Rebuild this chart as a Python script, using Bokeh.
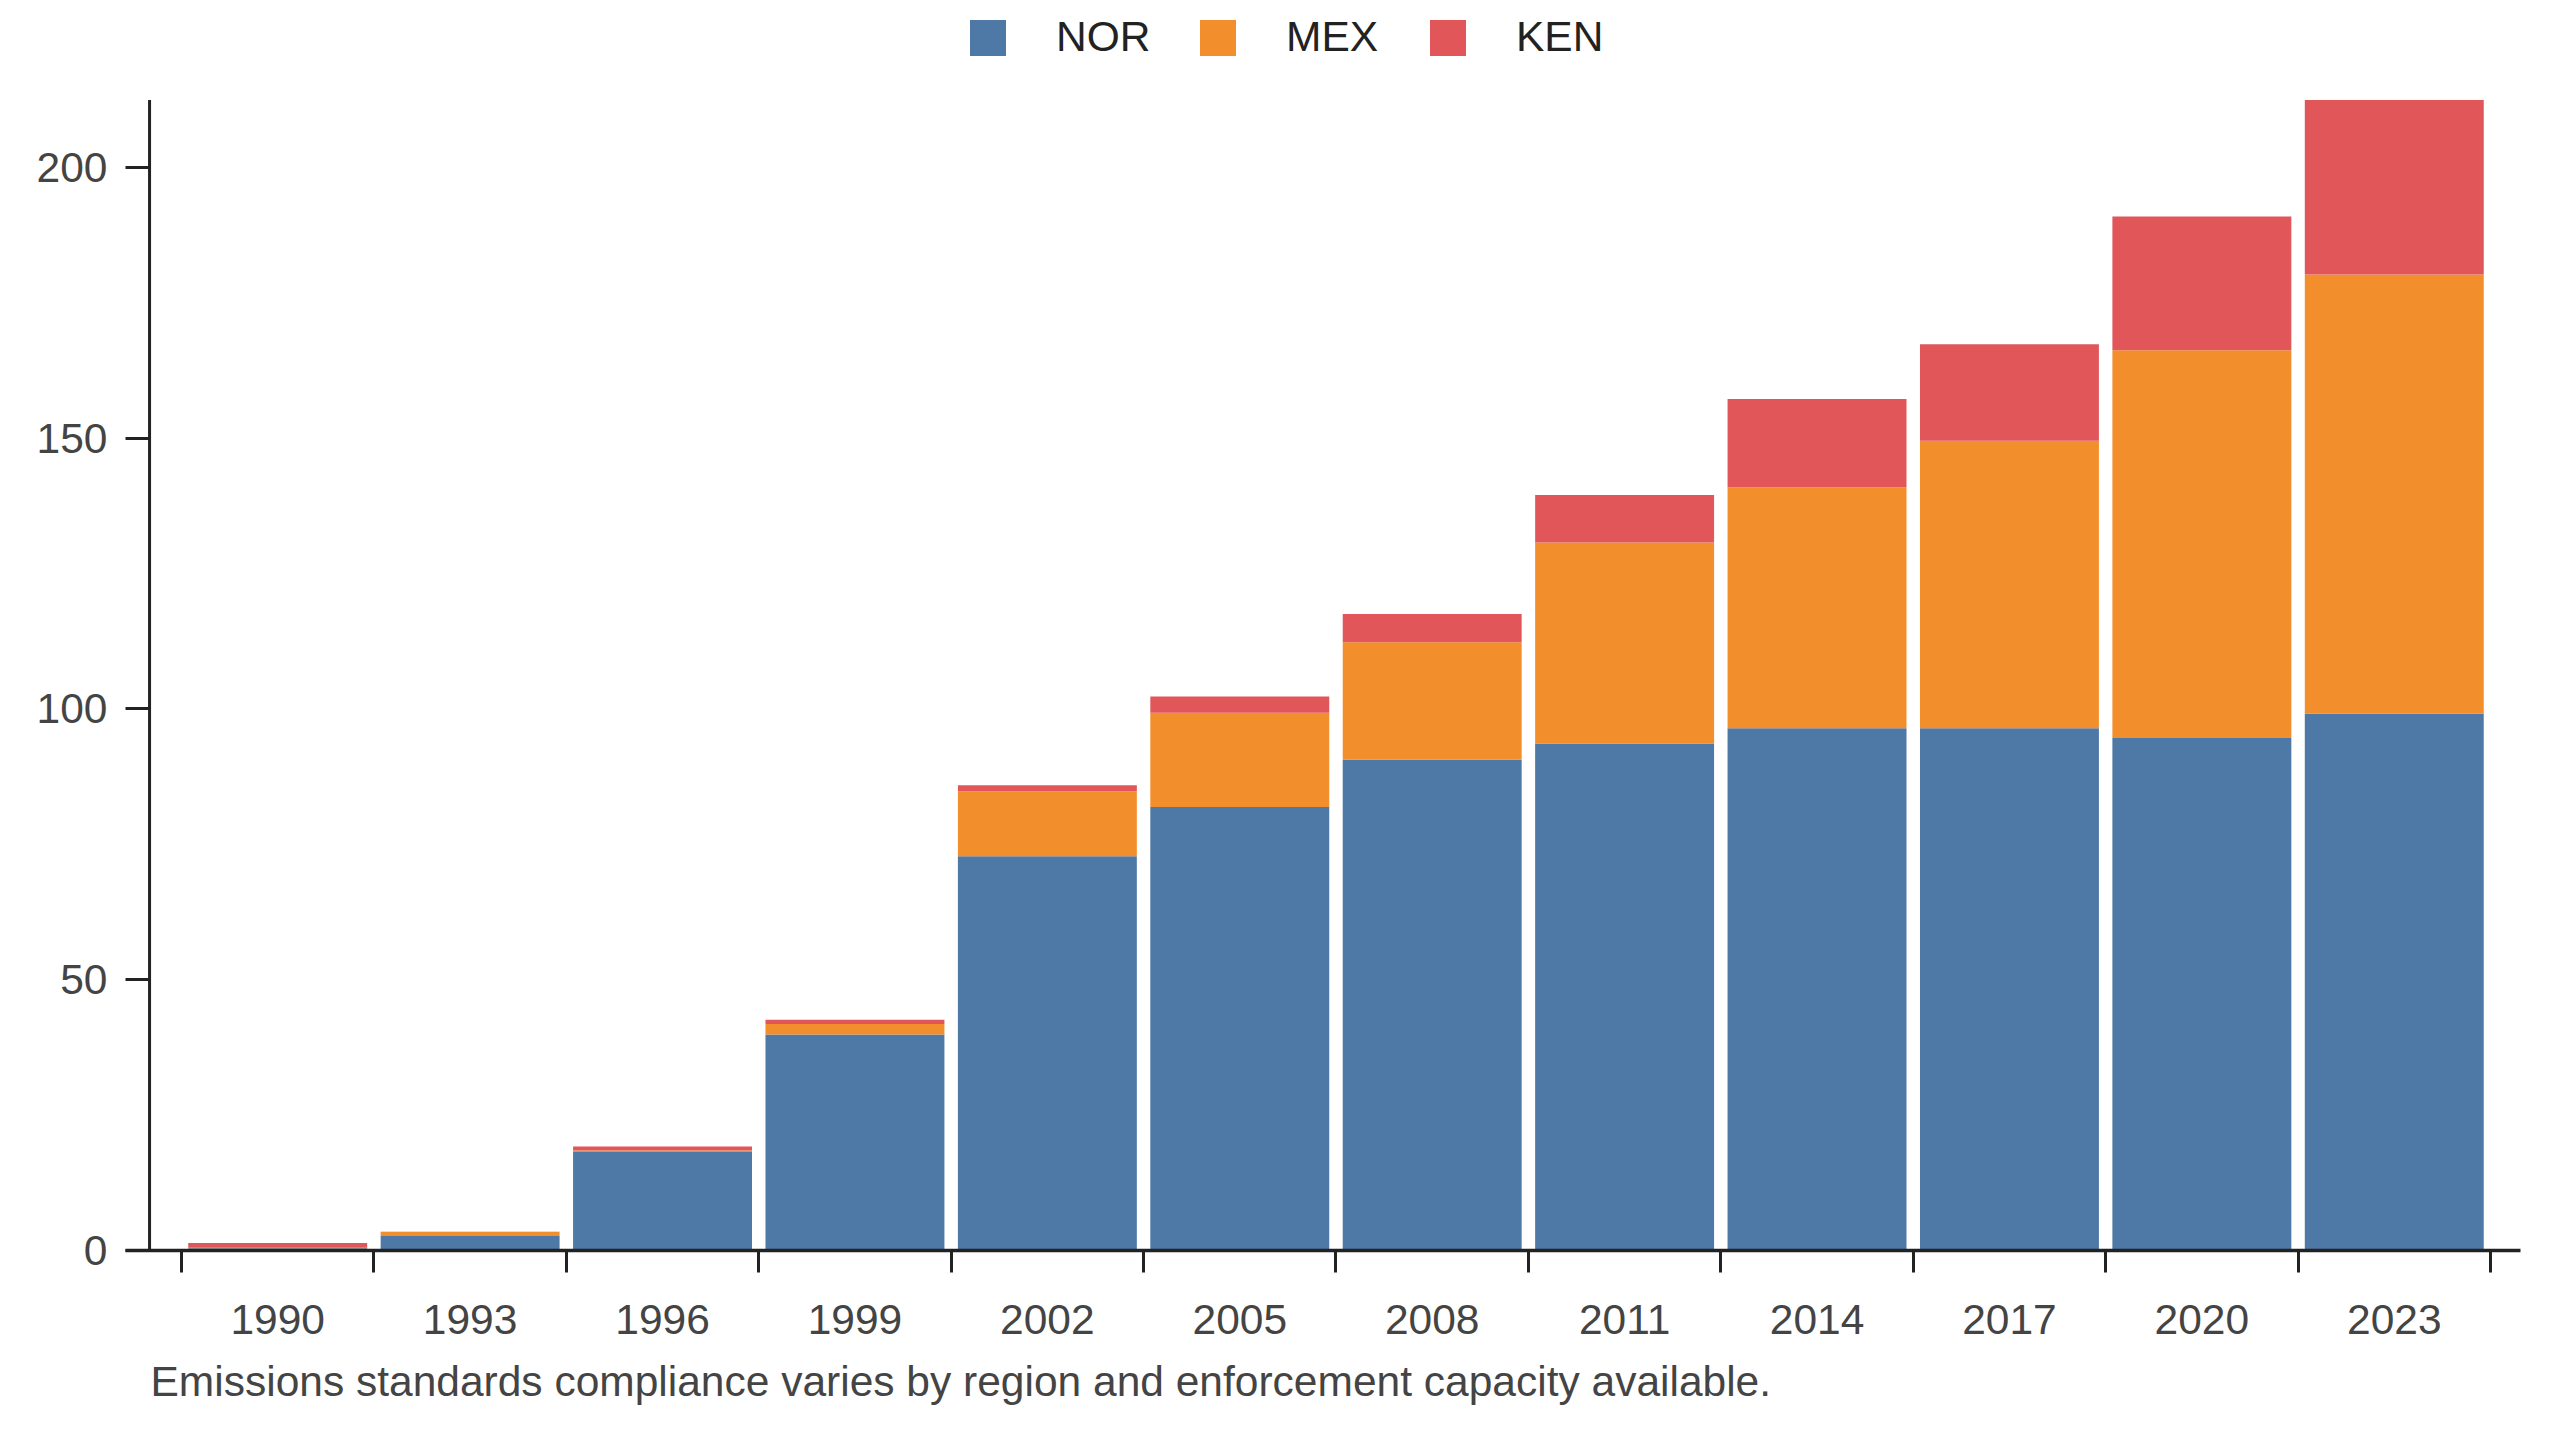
from bokeh.plotting import figure
from bokeh.models import (Range1d, FixedTicker, Legend, LegendItem, Title)
from bokeh.embed import file_html
from bokeh.resources import INLINE

years = ["1990", "1993", "1996", "1999", "2002", "2005", "2008", "2011", "2014", "2017", "2020", "2023"]
nor = [0.4, 2.7, 18.2, 39.9, 72.8, 81.9, 90.6, 93.6, 96.4, 96.4, 94.6, 99.1]
mex = [0.1, 0.7, 0.25, 1.9, 12.0, 17.4, 21.7, 37.1, 44.5, 53.1, 71.6, 81.1]
ken = [0.9, 0.05, 0.75, 0.8, 1.1, 3.0, 5.2, 8.8, 16.3, 17.8, 24.7, 32.2]
series = ["NOR", "MEX", "KEN"]
colors = ["#4e79a7", "#f28e2b", "#e15759"]
caption = "Emissions standards compliance varies by region and enforcement capacity available."

xs = list(range(len(years)))
totals = [a + b + c for a, b, c in zip(nor, mex, ken)]
data = {"x": xs, "NOR": nor, "MEX": mex, "KEN": ken}

FONT = "Liberation Sans"
FS = "42.5px"

# frame spans from the canvas top; the data area ends 100px lower (room for the legend)
FRAME_H = 1256
ymax = max(totals)
y_end = ymax * FRAME_H / (FRAME_H - 100)

p = figure(width=2544, height=1424, output_backend="svg", toolbar_location=None,
           x_range=Range1d(-0.791, 11.656), y_range=Range1d(0, y_end))
p.min_border_left = 125
p.min_border_right = 24
p.min_border_top = 0
p.min_border_bottom = 168
p.outline_line_color = None
p.background_fill_color = "white"
p.border_fill_color = "white"
p.xgrid.visible = False
p.ygrid.visible = False

renderers = p.vbar_stack(series, x="x", width=0.93, color=colors, source=data, line_color=None)

# y axis line, from 0 to the top of the data
p.segment(x0=[-0.666], y0=[0], x1=[-0.666], y1=[ymax], line_color="#222222", line_width=3)

# y axis
ya = p.yaxis[0]
ya.ticker = FixedTicker(ticks=[0, 50, 100, 150, 200], minor_ticks=[])
ya.axis_line_color = None
ya.major_tick_in = 24
ya.major_tick_out = 0
ya.major_tick_line_width = 3
ya.major_tick_line_color = "#222222"
ya.minor_tick_line_color = None
ya.major_label_standoff = 18
ya.major_label_text_font = FONT
ya.major_label_text_font_size = FS
ya.major_label_text_color = "#444444"

# x axis
xa = p.xaxis[0]
xa.ticker = FixedTicker(ticks=xs, minor_ticks=[i - 0.5 for i in range(len(years) + 1)])
xa.major_label_overrides = {i: y for i, y in zip(xs, years)}
xa.axis_line_color = "#222222"
xa.axis_line_width = 3.5
xa.major_tick_in = 0
xa.major_tick_out = 0
xa.major_tick_line_color = None
xa.minor_tick_in = 0
xa.minor_tick_out = 22
xa.minor_tick_line_width = 3
xa.minor_tick_line_color = "#222222"
xa.major_label_standoff = 32
xa.major_label_text_font = FONT
xa.major_label_text_font_size = FS
xa.major_label_text_color = "#444444"

# caption
cap = Title(text=caption, align="left", offset=25, standoff=39,
            text_font=FONT, text_font_size=FS, text_font_style="normal",
            text_color="#444444")
p.add_layout(cap, "below")

# legend
items = [LegendItem(label=s, renderers=[r]) for s, r in zip(series, renderers)]
legend = Legend(items=items, orientation="horizontal", location=(840, 1189),
                glyph_width=45, glyph_height=45, label_standoff=46, spacing=10,
                label_width=129, padding=0, margin=0, border_line_color=None,
                background_fill_alpha=0, label_text_font=FONT, label_text_font_size=FS,
                label_text_color="#222222", label_height=45)
p.add_layout(legend, "center")

open("out.html", "w").write(file_html(p, INLINE))
